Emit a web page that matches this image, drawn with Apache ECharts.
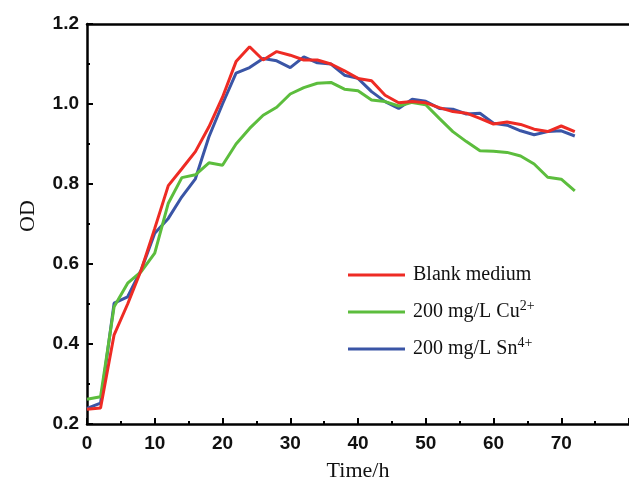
<!DOCTYPE html>
<html><head><meta charset="utf-8">
<script src="https://cdn.jsdelivr.net/npm/echarts@6/dist/echarts.min.js"></script>
<style>html,body{margin:0;padding:0;background:#fff}#c{width:629px;height:488px}</style>
</head><body><div id="c"></div>
<script>
const hours = [0,2,4,6,8,10,12,14,16,18,20,22,24,26,28,30,32,34,36,38,40,42,44,46,48,50,52,54,56,58,60,62,64,66,68,70,72];
const blank = [0.237,0.240,0.423,0.500,0.585,0.689,0.796,0.838,0.881,0.943,1.017,1.106,1.143,1.110,1.131,1.122,1.110,1.110,1.100,1.083,1.064,1.058,1.022,1.003,1.006,1.003,0.991,0.981,0.977,0.964,0.950,0.955,0.949,0.937,0.931,0.945,0.931];
const cu = [0.262,0.268,0.493,0.552,0.581,0.627,0.752,0.816,0.823,0.853,0.847,0.900,0.939,0.972,0.992,1.025,1.041,1.052,1.054,1.037,1.033,1.010,1.006,0.995,1.004,0.998,0.964,0.931,0.906,0.883,0.882,0.879,0.870,0.850,0.817,0.812,0.783];
const sn = [0.239,0.252,0.502,0.518,0.585,0.677,0.714,0.768,0.813,0.918,1.000,1.077,1.091,1.114,1.108,1.091,1.118,1.103,1.100,1.072,1.064,1.031,1.006,0.989,1.012,1.007,0.989,0.987,0.975,0.977,0.952,0.947,0.933,0.923,0.931,0.933,0.920];
const seriesNames = ['Blank medium','200 mg/L Cu2+','200 mg/L Sn4+'];
const colors = ['#ee2b24','#5cbd3d','#3a55a6'];

const pair = arr => hours.map((h,i)=>[h,arr[i]]);
const chart = echarts.init(document.getElementById('c'));
const axisFont = {fontFamily:'Liberation Sans', fontWeight:'bold', fontSize:19, color:'#111'};
chart.setOption({
  animation:false,
  grid:{left:87, top:24, bottom:64, right:-45},
  legend:{
    orient:'vertical', left:348, top:265, padding:0, itemWidth:57, itemHeight:3, itemGap:14,
    icon:'rect',
    data:seriesNames,
    formatter: n => n.replace('Cu2+','Cu{sup|2+}').replace('Sn4+','Sn{sup|4+}'),
    textStyle:{fontFamily:'Liberation Serif', fontSize:20, color:'#111', padding:[0,0,0,3],
      rich:{sup:{fontFamily:'Liberation Serif', fontSize:14, color:'#111', padding:[0,0,12,0]}}}
  },
  xAxis:[{
    type:'value', min:0, max:80, interval:10,
    name:'Time/h', nameLocation:'middle', nameGap:36,
    nameTextStyle:{fontFamily:'Liberation Serif', fontSize:22, color:'#111'},
    axisLine:{lineStyle:{color:'#000', width:2.5}},
    axisTick:{inside:true, length:6, lineStyle:{color:'#000', width:2}},
    minorTick:{show:true, splitNumber:2, length:3, lineStyle:{color:'#000', width:2}},
    axisLabel:{...axisFont, margin:10, showMaxLabel:false},
    splitLine:{show:false}
  },{
    type:'value', min:0, max:80, position:'top',
    axisLine:{lineStyle:{color:'#000', width:2.5}},
    axisTick:{show:false}, axisLabel:{show:false}, splitLine:{show:false}
  }],
  yAxis:{
    type:'value', min:0.2, max:1.2, interval:0.2,
    name:'OD', nameLocation:'middle', nameGap:48, nameRotate:90,
    nameTextStyle:{fontFamily:'Liberation Serif', fontSize:22, color:'#111', padding:[0,0,0,16]},
    axisLine:{show:true, lineStyle:{color:'#000', width:2.5}},
    axisTick:{inside:true, length:6, lineStyle:{color:'#000', width:2}},
    minorTick:{show:true, splitNumber:2, length:3, lineStyle:{color:'#000', width:2}},
    axisLabel:{...axisFont, margin:8, formatter:v=>v.toFixed(1)},
    splitLine:{show:false}
  },
  series:[blank,cu,sn].map((d,i)=>({
    name:seriesNames[i], type:'line', data:pair(d), symbol:'none',
    lineStyle:{color:colors[i], width:3}, itemStyle:{color:colors[i]}, z:3-i
  }))
});
</script></body></html>
